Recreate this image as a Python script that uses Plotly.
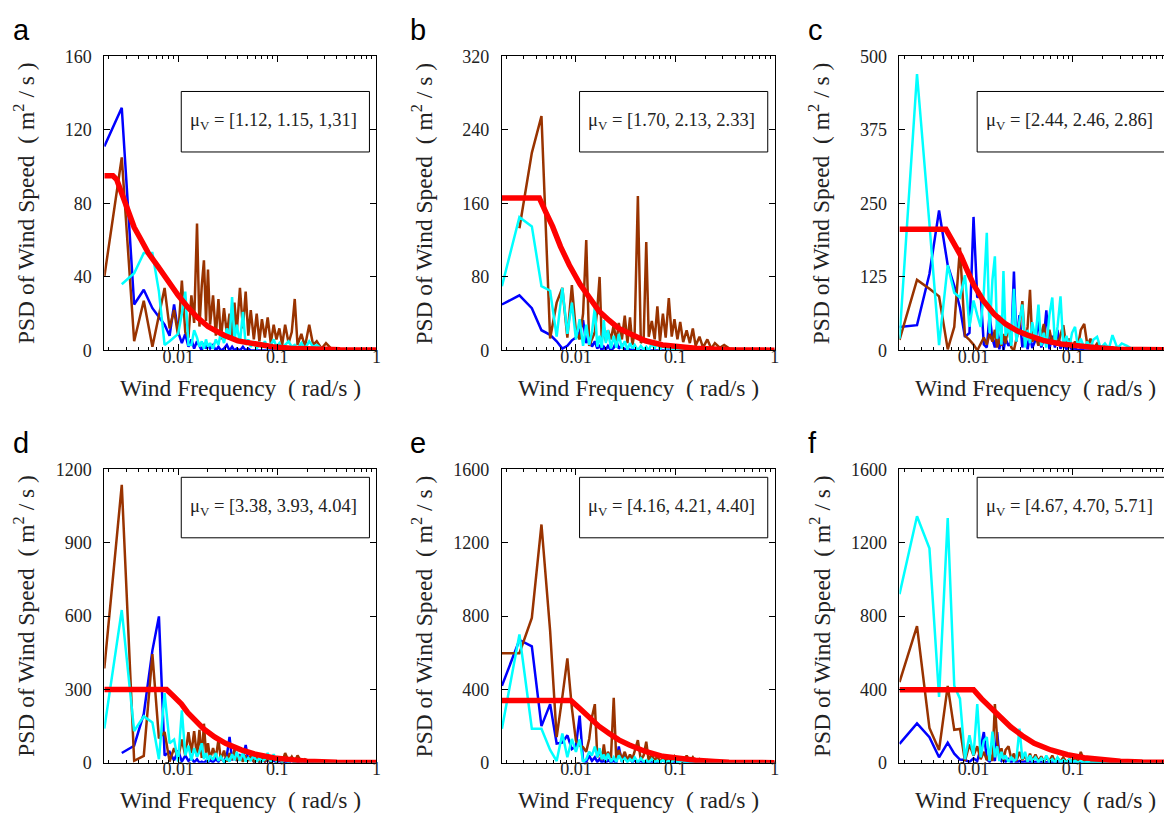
import plotly.graph_objects as go

# Frequenzraster (rad/s), gemeinsam fuer alle Teilbilder
freq = [0.0018, 0.0027, 0.0036, 0.0045, 0.0055, 0.0064, 0.0073, 0.0082, 0.0091, 0.0100,
        0.0109, 0.0118, 0.0127, 0.0136, 0.0145, 0.0155, 0.0164, 0.0173, 0.0182, 0.0191,
        0.0200, 0.0210, 0.0225, 0.0240, 0.0255, 0.0270, 0.0290, 0.0310, 0.0330, 0.0350,
        0.0370, 0.0390, 0.0420, 0.0450, 0.0480, 0.0510, 0.0540, 0.0580, 0.0620, 0.0660,
        0.0700, 0.0750, 0.0800, 0.0860, 0.0920, 0.0980, 0.105, 0.112, 0.120, 0.130,
        0.140, 0.150, 0.160, 0.175, 0.190, 0.210, 0.230, 0.250, 0.280, 0.310,
        0.350, 0.400, 0.500, 0.700, 1.000]

# --- a ---
a_blue = [111, 132, 25, 33, 23, 18, 14, 8, 25, 10,
          4, 9, 2, 6, 1, 5, 2, 0, 4, 1,
          3, 1, 3, 0, 2, 0, 1, 3, 0, 2,
          0, 1, 0, 2, 0, 1] + [0] * 29
a_brown = [40, 105, 5, 27, 2, 20, 34, 12, 22, 8,
           38, 10, 7, 30, 15, 69, 13, 35, 49, 16,
           44, 14, 30, 8, 28, 6, 23, 9, 20, 7,
           26, 10, 34, 12, 32, 8, 22, 6, 20, 5,
           17, 7, 18, 4, 14, 6, 12, 3, 14, 4,
           10, 28, 3, 9, 2, 14, 3, 5, 1, 4,
           1, 0.5, 0, 0, 0]
a_cyan = [None, 36, 42, 53, 53, 32, 3, 5, 7, 9,
          20, 32, 3, 3, 11, 7, 2, 5, 1, 6,
          2, 4, 1, 6, 3, 10, 4, 12, 6, 29,
          5, 14, 4, 21, 3, 6, 2, 5, 1, 4,
          2, 5, 1, 3, 6, 2, 4, 1, 3, 5,
          2, 3, 1, 4, 1, 5, 2, 3, 1, 1,
          0, 0, 0, 0, 0]
a_red_f = [0.0018, 0.0022, 0.0024, 0.0027, 0.0031, 0.0036, 0.0042, 0.005, 0.0062, 0.0078,
           0.01, 0.0125, 0.0156, 0.02, 0.029, 0.04, 0.063, 0.09, 0.136, 0.25, 0.43, 1.0]
a_red_v = [95, 95, 93, 85, 75, 67, 60.5, 53, 46, 38,
           30, 23.5, 18, 13, 8.3, 5.2, 3, 2, 1.2, 0.6, 0.35, 0.2]

# --- b ---
b_blue = [50, 60, 46, 22, 17, 10, 2, 5, 11, 14,
          20, 33, 8, 15, 4, 10, 2, 6, 0, 4,
          1, 5, 0, 3, 10, 2, 6, 0, 3, 0,
          2, 0, 1] + [0] * 32
b_brown = [None, 133, 215, 255, 13, 52, 68, 14, 71, 20,
           12, 40, 120, 5, 12, 20, 45, 80, 11, 25,
           10, 22, 12, 28, 8, 30, 12, 38, 8, 36,
           6, 20, 168, 8, 12, 118, 15, 32, 12, 48,
           10, 40, 14, 57, 15, 34, 12, 31, 9, 22,
           8, 24, 5, 15, 3, 12, 2, 8, 3, 6,
           2, 1, 0, 0, 0]
b_cyan = [70, 145, 135, 70, 65, 15, 68, 18, 52, 12,
          34, 5, 28, 6, 20, 47, 4, 16, 3, 33,
          8, 22, 2, 16, 3, 18, 2, 10, 1, 8,
          2, 6, 0, 5, 1, 4, 0, 8, 2, 10,
          1, 5, 2, 3, 1, 2, 0, 1] + [0] * 17
b_red_f = [0.0018, 0.00428, 0.005, 0.00582, 0.007, 0.00857, 0.011, 0.0136, 0.017, 0.0216,
           0.027, 0.0345, 0.05, 0.0745, 0.11, 0.16, 0.347, 1.0]
b_red_v = [166, 166, 150, 135, 113, 93, 72, 57, 43, 32.6,
           24, 18.4, 10.5, 6, 3.8, 2.5, 0.7, 0.3]

# --- c ---
c_blue = [40, 43, 130, 238, 145, 110, 73, 23, 30, 227,
          90, 95, 10, 5, 60, 20, 5, 45, 2, 30,
          0, 20, 8, 15, 134, 15, 60, 5, 30, 2,
          25, 4, 18, 50, 5, 20, 68, 2, 25, 5,
          35, 3, 12, 2, 8, 1, 4, 0, 2] + [0] * 16
c_brown = [18, 120, 105, 92, 2, 40, 175, 25, 18, 10,
           0, 12, 22, 10, 28, 15, 35, 5, 20, 8,
           28, 12, 45, 5, 0, 20, 40, 84, 10, 40,
           103, 15, 25, 8, 30, 45, 10, 35, 12, 30,
           8, 25, 43, 6, 20, 4, 15, 5, 35, 45,
           8, 20, 3, 12, 2, 8, 2, 5, 1, 3,
           0, 0, 0, 0, 0]
c_cyan = [20, 470, 215, 9, 145, 98, 90, 128, 40, 85,
          60, 40, 100, 200, 30, 120, 160, 20, 60, 10,
          135, 25, 40, 8, 105, 15, 50, 78, 5, 35,
          12, 48, 20, 78, 8, 30, 5, 60, 90, 10,
          40, 92, 8, 25, 5, 30, 40, 6, 20, 4,
          15, 3, 18, 23, 4, 12, 3, 26, 4, 12,
          8, 2, 0, 0, 0]
c_red_f = [0.0018, 0.00527, 0.0062, 0.0075, 0.0087, 0.01, 0.0125, 0.0161, 0.021, 0.0277,
           0.035, 0.05, 0.076, 0.11, 0.164, 0.28, 1.0]
c_red_v = [206, 206, 185, 160, 135, 112, 85, 62, 45, 33,
           26, 17, 11, 7.5, 5, 2.2, 1]

# --- d ---
d_blue = [None, 40, 70, 200, 460, 599, 30, 45, 10, 50,
          5, 30, 8, 20, 2, 15, 0, 5, 0, 8,
          2, 10, 3, 15, 4, 20, 5, 30, 106, 10,
          40, 8, 30, 15, 73, 10, 25, 5, 15, 3,
          20, 4, 15, 2, 10, 1, 8, 1, 5, 0,
          10, 1, 4, 0, 6, 0, 3] + [0] * 8
d_brown = [386, 1137, 8, 28, 445, 100, 126, 5, 60, 20,
           95, 30, 125, 40, 130, 25, 135, 20, 160, 35,
           80, 15, 60, 20, 95, 10, 50, 5, 40, 12,
           55, 8, 30, 5, 25, 8, 30, 5, 20, 4,
           25, 6, 20, 3, 30, 5, 15, 3, 40, 6,
           25, 4, 30, 5, 15, 3, 10, 2, 6, 1,
           0, 0, 0, 0, 0]
d_cyan = [140, 625, 130, 190, 165, 15, 285, 80, 95, 5,
          215, 30, 70, 10, 60, 25, 45, 80, 15, 40,
          5, 30, 12, 40, 8, 25, 3, 20, 5, 35,
          10, 45, 8, 40, 5, 20, 10, 30, 4, 20,
          6, 15, 40, 5, 35, 8, 20, 4, 15, 3,
          12, 2, 10, 3, 8, 2, 6, 1, 5, 1,
          4, 0, 0, 0, 0]
d_red_f = [0.0018, 0.00764, 0.009, 0.0108, 0.0125, 0.0147, 0.018, 0.0233, 0.03, 0.0432,
           0.06, 0.093, 0.13, 0.2, 0.4, 1.0]
d_red_v = [300, 300, 272, 240, 205, 173, 140, 106, 80, 53,
           35, 20, 12, 6.6, 2.5, 1]

# --- e ---
e_blue = [420, 670, 635, 200, 320, 105, 110, 150, 75, 90,
          257, 10, 5, 40, 10, 30, 5, 20, 2, 12,
          0, 15, 3, 10, 0, 89, 5, 40, 10, 25,
          3, 15, 2, 10, 0, 6, 1, 8, 0, 5,
          1, 15, 2, 6, 0, 4, 1, 20, 2, 5,
          0, 3, 1, 2] + [0] * 11
e_brown = [598, 598, 790, 1300, 720, 140, 360, 570, 300, 120,
           95, 85, 60, 130, 250, 320, 30, 70, 15, 100,
           15, 60, 25, 355, 10, 70, 20, 60, 15, 45,
           20, 60, 124, 15, 40, 115, 10, 50, 8, 40,
           5, 25, 10, 30, 8, 35, 10, 25, 5, 40,
           8, 30, 5, 20, 3, 15, 2, 8, 1, 4,
           0, 0, 0, 0, 0]
e_cyan = [186, 700, 186, 186, 70, 10, 160, 30, 130, 60,
          128, 5, 20, 60, 40, 89, 30, 80, 20, 45,
          10, 50, 5, 30, 5, 40, 10, 25, 4, 20,
          8, 30, 3, 25, 6, 15, 2, 20, 4, 12,
          3, 15, 2, 10, 3, 20, 2, 8, 1, 5,
          0, 4, 0, 2] + [0] * 11
e_red_f = [0.0018, 0.0089, 0.011, 0.0136, 0.017, 0.0216, 0.027, 0.0345, 0.05, 0.0745,
           0.11, 0.16, 0.25, 0.347, 1.0]
e_red_v = [340, 340, 295, 248, 200, 160, 125, 97.6, 62, 35.5,
           22, 14, 7, 3.5, 1]

# --- f ---
f_blue = [103, 215, 140, 30, 110, 50, 18, 15, 5, 25,
          10, 80, 168, 20, 5, 40, 10, 168, 30, 10,
          25, 5, 20, 2, 15, 0, 10, 2, 8, 0,
          6, 1, 5, 0, 4, 0, 3, 0, 2] + [0] * 26
f_brown = [440, 745, 190, 70, 420, 180, 185, 10, 100, 40,
           90, 20, 60, 15, 50, 10, 320, 125, 30, 80,
           10, 70, 90, 20, 50, 10, 60, 15, 40, 5,
           50, 10, 45, 8, 35, 5, 30, 10, 40, 5,
           25, 8, 30, 4, 20, 6, 25, 3, 60, 5,
           15, 3, 10, 2, 8, 1, 5, 1, 3, 0,
           0, 0, 0, 0, 0]
f_cyan = [920, 1345, 1170, 360, 1335, 420, 350, 20, 150, 40,
          320, 30, 120, 140, 10, 170, 30, 90, 10, 60,
          20, 40, 5, 30, 10, 20, 186, 20, 60, 5,
          40, 10, 30, 5, 25, 8, 40, 5, 20, 3,
          30, 5, 15, 2, 20, 3, 10, 2, 8, 1,
          5] + [0] * 14
f_red_f = [0.0018, 0.0100, 0.012, 0.0149, 0.019, 0.0237, 0.031, 0.0408, 0.06, 0.0884,
           0.13, 0.19, 0.3, 0.5, 1.0]
f_red_v = [399, 399, 350, 301, 245, 195, 148, 106, 70, 44,
           28, 17.7, 9, 4, 2]

letters = ['a', 'b', 'c', 'd', 'e', 'f']
mu_texts = ['[1.12, 1.15, 1,31]', '[1.70, 2.13, 2.33]', '[2.44, 2.46, 2.86]',
            '[3.38, 3.93, 4.04]', '[4.16, 4.21, 4.40]', '[4.67, 4.70, 5.71]']
y_max = [160, 320, 500, 1200, 1600, 1600]
y_ticks = [[0, 40, 80, 120, 160], [0, 80, 160, 240, 320], [0, 125, 250, 375, 500],
           [0, 300, 600, 900, 1200], [0, 400, 800, 1200, 1600], [0, 400, 800, 1200, 1600]]

series = [
    (a_blue, a_brown, a_cyan, a_red_f, a_red_v),
    (b_blue, b_brown, b_cyan, b_red_f, b_red_v),
    (c_blue, c_brown, c_cyan, c_red_f, c_red_v),
    (d_blue, d_brown, d_cyan, d_red_f, d_red_v),
    (e_blue, e_brown, e_cyan, e_red_f, e_red_v),
    (f_blue, f_brown, f_cyan, f_red_f, f_red_v),
]

# Layout in Pixeln (Plotbereich links, rechts, oben, unten)
W, H = 1172, 826
boxes = [(96.7, 370, 39.3, 340.7), (496, 770, 39.3, 340.7), (895.3, 1169.3, 39.3, 340.7),
         (96.7, 370, 462.7, 763.3), (496, 770, 462.7, 763.3), (895.3, 1169.3, 462.7, 763.3)]


def px(x):
    return x / W


def py(y):
    return 1 - y / H


serif = 'Liberation Serif'
minor_vals = [m * 10 ** e for e in (-3, -2, -1) for m in range(2, 10)]

fig = go.Figure()
layout = dict(width=W, height=H, margin=dict(l=0, r=0, t=0, b=0),
              paper_bgcolor='white', plot_bgcolor='white', showlegend=False,
              annotations=[], shapes=[])

for i in range(6):
    n = '' if i == 0 else str(i + 1)
    x0, x1, y0, y1 = boxes[i]
    blue, brown, cyan, rf, rv = series[i]
    for vals, col in [(blue, '#0000ff'), (brown, '#993300'), (cyan, '#00ffff')]:
        fig.add_trace(go.Scatter(x=freq, y=vals, mode='lines', line=dict(color=col, width=2.5),
                                 xaxis='x' + n, yaxis='y' + n))
    fig.add_trace(go.Scatter(x=rf, y=rv, mode='lines', line=dict(color='#ff0000', width=5.5),
                             xaxis='x' + n, yaxis='y' + n))

    layout['xaxis' + n] = dict(
        type='log', range=[-2.745, 0], domain=[px(x0), px(x1)], anchor='y' + n,
        tickvals=[0.01, 0.1, 1], ticktext=['0.01', '0.1', '1'],
        ticks='inside', ticklen=6, tickcolor='black', showline=True, linecolor='black',
        linewidth=1, mirror='allticks', showgrid=False, zeroline=False,
        tickfont=dict(family=serif, size=18, color='#222'), ticklabelstandoff=-10,
        minor=dict(ticks='inside', ticklen=3, tickcolor='black', tickvals=minor_vals, showgrid=False))
    layout['yaxis' + n] = dict(
        range=[0, y_max[i]], domain=[py(y1), py(y0)], anchor='x' + n,
        tickvals=y_ticks[i], ticks='inside', ticklen=6, tickcolor='black',
        showline=True, linecolor='black', linewidth=1, mirror='allticks',
        showgrid=False, zeroline=False, tickfont=dict(family=serif, size=18, color='#222'),
        ticklabelstandoff=8)

    cx = (x0 + x1) / 2
    cy = (y0 + y1) / 2
    layout['annotations'].append(dict(
        text='Wind Frequency  ( rad/s )', x=px(cx), y=py(y1 + 38), xref='paper', yref='paper',
        showarrow=False, xanchor='center', yanchor='middle',
        font=dict(family=serif, size=23.5, color='#222')))
    layout['annotations'].append(dict(
        text='PSD of Wind Speed  ( m<sup>2</sup> / s )', x=px(x0 - 80), y=py(cy), textangle=-90,
        xref='paper', yref='paper', showarrow=False, xanchor='center', yanchor='middle',
        font=dict(family=serif, size=23.5, color='#222')))
    layout['annotations'].append(dict(
        text=letters[i], x=px(x0 - 94), y=py(y0 - 9), xref='paper', yref='paper',
        showarrow=False, xanchor='left', yanchor='bottom',
        font=dict(family='Liberation Sans', size=29, color='black')))

    # Kasten mit Mittelwerten
    top = y0 + 36 if i < 3 else y0 + 8
    bx0, bx1, by0, by1 = x1 - 196, x1 - 7, top, top + 62
    layout['shapes'].append(dict(type='rect', xref='paper', yref='paper',
                                 x0=px(bx0), x1=px(bx1), y0=py(by1), y1=py(by0),
                                 line=dict(color='black', width=1), fillcolor='white'))
    layout['annotations'].append(dict(
        text='\u03bc<sub>V</sub> = ' + mu_texts[i], x=px((bx0 + bx1) / 2 - 2), y=py((by0 + by1) / 2),
        xref='paper', yref='paper', showarrow=False, xanchor='center', yanchor='middle',
        font=dict(family=serif, size=18.5, color='#222')))

fig.update_layout(**layout)
fig.write_html('out.html')
